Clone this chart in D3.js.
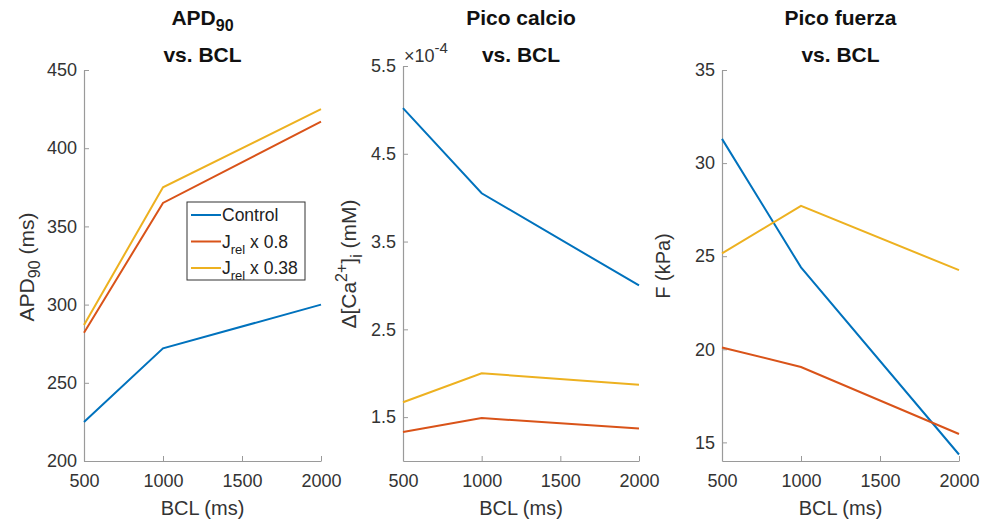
<!DOCTYPE html>
<html>
<head>
<meta charset="utf-8">
<script src="https://cdn.jsdelivr.net/npm/d3@7"></script>
<style>
  body { margin: 0; background: #fff; }
  text { font-family: "Liberation Sans", Arial, sans-serif; }
</style>
</head>
<body>
<script>
const w = 982;
const h = 521;

// data
const bcl = [500, 1000, 2000];
const seriesNames = ["Control", "J_rel x 0.8", "J_rel x 0.38"];
const colors = ["#0072BD", "#D95319", "#EDB120"];

const apdControl = [225, 272, 300];
const apdRel08 = [282, 365, 417];
const apdRel038 = [287, 375, 425];

// calcium in units of 1e-4 mM
const caControl = [5.02, 4.05, 3.0];
const caRel08 = [1.33, 1.49, 1.37];
const caRel038 = [1.67, 2.0, 1.87];

const fControl = [31.3, 24.4, 14.35];
const fRel08 = [20.1, 19.05, 15.45];
const fRel038 = [25.15, 27.7, 24.25];

const xTicks = [500, 1000, 1500, 2000];
const apdTicks = [200, 250, 300, 350, 400, 450];
const caTicks = [1.5, 2.5, 3.5, 4.5, 5.5];
const fTicks = [15, 20, 25, 30, 35];

var svg = d3.select("body")
            .append("svg")
            .attr("width", w)
            .attr("height", h);

const plotBottom = 461;

const panels = [
  { x0: 84, x1: 321, yDomain: [200, 450], ticks: apdTicks, fmt: d3.format("d"),
    series: [apdControl, apdRel08, apdRel038], top: 70 },
  { x0: 403, x1: 639, yDomain: [1, 5.5], ticks: caTicks, fmt: d3.format(".1f"),
    series: [caControl, caRel08, caRel038], top: 66 },
  { x0: 722, x1: 959, yDomain: [14, 35], ticks: fTicks, fmt: d3.format("d"),
    series: [fControl, fRel08, fRel038], top: 70 }
];

panels.forEach((p, i) => {
  const xScale = d3.scaleLinear().domain([500, 2000]).range([p.x0, p.x1]);
  const yScale = d3.scaleLinear().domain(p.yDomain).range([plotBottom, p.top]);

  const g = svg.append("g");

  const xAxis = d3.axisBottom(xScale).tickValues(xTicks).tickFormat(d3.format("d"))
                  .tickSize(-5).tickSizeOuter(0).tickPadding(13);
  const yAxis = d3.axisLeft(yScale).tickValues(p.ticks).tickSize(-5).tickSizeOuter(0)
                  .tickPadding(7).tickFormat(p.fmt);

  const gx = g.append("g").attr("transform", "translate(0," + plotBottom + ")").call(xAxis);
  const gy = g.append("g").attr("transform", "translate(" + p.x0 + ",0)").call(yAxis);

  [gx, gy].forEach(a => {
    a.select(".domain").attr("stroke", "#9a9a9a").attr("stroke-width", 1.2);
    a.selectAll(".tick line").attr("stroke", "#9a9a9a");
    a.selectAll(".tick text").attr("fill", "#333").attr("font-size", 18)
      .style("font-family", "'Liberation Sans', Arial, sans-serif");
  });

  const line = d3.line().x((d, k) => xScale(bcl[k])).y(d => yScale(d));

  p.series.forEach((s, k) => {
    g.append("path")
     .datum(s)
     .attr("d", line)
     .attr("fill", "none")
     .attr("stroke", colors[k])
     .attr("stroke-width", 2);
  });

  g.append("text")
   .attr("x", (p.x0 + p.x1) / 2)
   .attr("y", 515)
   .attr("text-anchor", "middle")
   .attr("font-size", 20)
   .attr("fill", "#333")
   .text("BCL (ms)");

  p.cx = (p.x0 + p.x1) / 2;
});

// titles
function title(cx, line1, sub) {
  const t = svg.append("text")
     .attr("x", cx)
     .attr("y", 25)
     .attr("text-anchor", "middle")
     .attr("font-size", 21)
     .attr("font-weight", "bold")
     .attr("fill", "#111");
  t.append("tspan").text(line1);
  if (sub) {
    t.append("tspan").attr("font-size", 16).attr("dy", 6).text(sub);
  }
  svg.append("text")
     .attr("x", cx)
     .attr("y", 62)
     .attr("text-anchor", "middle")
     .attr("font-size", 21)
     .attr("font-weight", "bold")
     .attr("fill", "#111")
     .text("vs. BCL");
}
title(panels[0].cx, "APD", "90");
title(panels[1].cx, "Pico calcio");
title(panels[2].cx, "Pico fuerza");

// y labels
const ylab1 = svg.append("text")
  .attr("transform", "translate(34,267) rotate(-90)")
  .attr("text-anchor", "middle").attr("font-size", 21).attr("fill", "#333");
ylab1.append("tspan").text("APD");
ylab1.append("tspan").attr("font-size", 16).attr("dy", 6).text("90");
ylab1.append("tspan").attr("dy", -6).text(" (ms)");

const ylab2 = svg.append("text")
  .attr("transform", "translate(356,264) rotate(-90)")
  .attr("text-anchor", "middle").attr("font-size", 21).attr("fill", "#333");
ylab2.append("tspan").text("Δ[Ca");
ylab2.append("tspan").attr("font-size", 16).attr("dy", -9).text("2+");
ylab2.append("tspan").attr("dy", 9).text("]");
ylab2.append("tspan").attr("font-size", 16).attr("dy", 6).text("i");
ylab2.append("tspan").attr("dy", -6).text(" (mM)");

svg.append("text")
  .attr("transform", "translate(670,266) rotate(-90)")
  .attr("text-anchor", "middle").attr("font-size", 20).attr("fill", "#333")
  .text("F (kPa)");

// exponent label
const expo = svg.append("text")
  .attr("x", 404).attr("y", 62)
  .attr("font-size", 18).attr("fill", "#333");
expo.append("tspan").text("×10");
expo.append("tspan").attr("font-size", 15).attr("dy", -9).text("-4");

// legend
const legend = svg.append("g");
legend.append("rect")
  .attr("x", 187).attr("y", 202)
  .attr("width", 118).attr("height", 78)
  .attr("fill", "#fff")
  .attr("stroke", "#333")
  .attr("stroke-width", 1);

seriesNames.forEach((name, k) => {
  const yy = 215 + k * 26.5;
  legend.append("line")
    .attr("x1", 191).attr("x2", 221)
    .attr("y1", yy).attr("y2", yy)
    .attr("stroke", colors[k]).attr("stroke-width", 2);
  const t = legend.append("text")
    .attr("x", 222).attr("y", yy + 6)
    .attr("font-size", 17.5).attr("fill", "#222");
  if (name.startsWith("J_rel")) {
    t.append("tspan").text("J");
    t.append("tspan").attr("font-size", 13).attr("dy", 6).text("rel");
    t.append("tspan").attr("dy", -6).text(name.replace("J_rel", ""));
  } else {
    t.text(name);
  }
});
</script>
</body>
</html>
